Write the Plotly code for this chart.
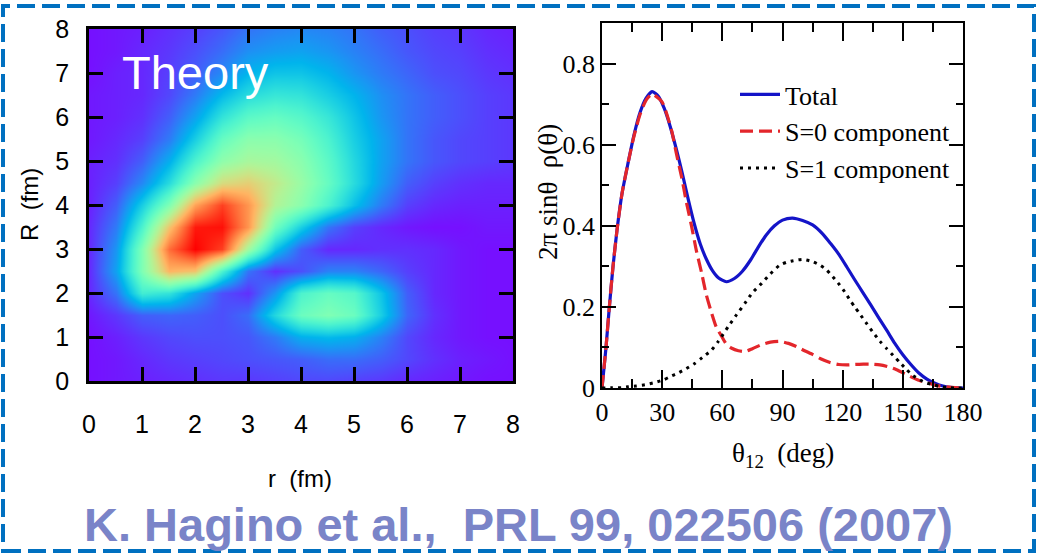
import math
import plotly.graph_objects as go

# ---------------- data: left panel (density map) ----------------
r_fm = [0, 0.5, 1, 1.5, 2, 2.5, 3, 3.5, 4, 4.5, 5, 5.5, 6, 6.5, 7, 7.5, 8]
R_fm = [0, 0.5, 1, 1.5, 2, 2.5, 3, 3.5, 4, 4.5, 5, 5.5, 6, 6.5, 7, 7.5, 8]
density = [
    [0.02, 0.03, 0.04, 0.05, 0.06, 0.07, 0.07, 0.08, 0.09, 0.09, 0.08, 0.07, 0.05, 0.04, 0.03, 0.02, 0.02],
    [0.02, 0.03, 0.05, 0.07, 0.08, 0.09, 0.10, 0.11, 0.12, 0.14, 0.14, 0.12, 0.09, 0.06, 0.04, 0.03, 0.02],
    [0.02, 0.04, 0.07, 0.09, 0.10, 0.10, 0.11, 0.16, 0.24, 0.26, 0.24, 0.17, 0.09, 0.05, 0.03, 0.02, 0.02],
    [0.03, 0.07, 0.12, 0.13, 0.12, 0.10, 0.14, 0.32, 0.46, 0.50, 0.46, 0.30, 0.13, 0.06, 0.03, 0.02, 0.02],
    [0.05, 0.15, 0.38, 0.35, 0.22, 0.10, 0.06, 0.20, 0.40, 0.45, 0.42, 0.28, 0.12, 0.05, 0.03, 0.02, 0.02],
    [0.05, 0.22, 0.50, 0.75, 0.72, 0.40, 0.15, 0.06, 0.10, 0.17, 0.17, 0.13, 0.08, 0.05, 0.03, 0.02, 0.02],
    [0.05, 0.20, 0.50, 0.86, 1.00, 0.92, 0.57, 0.28, 0.12, 0.05, 0.05, 0.06, 0.06, 0.05, 0.03, 0.02, 0.02],
    [0.05, 0.16, 0.40, 0.72, 0.97, 0.98, 0.80, 0.47, 0.30, 0.15, 0.08, 0.05, 0.03, 0.02, 0.02, 0.03, 0.03],
    [0.04, 0.12, 0.30, 0.50, 0.78, 0.92, 0.80, 0.60, 0.52, 0.40, 0.27, 0.16, 0.08, 0.05, 0.04, 0.04, 0.04],
    [0.04, 0.08, 0.18, 0.33, 0.52, 0.67, 0.70, 0.63, 0.55, 0.45, 0.33, 0.21, 0.12, 0.08, 0.06, 0.05, 0.05],
    [0.04, 0.06, 0.12, 0.24, 0.40, 0.53, 0.58, 0.57, 0.52, 0.43, 0.32, 0.22, 0.15, 0.11, 0.09, 0.08, 0.07],
    [0.03, 0.05, 0.08, 0.16, 0.30, 0.45, 0.52, 0.52, 0.48, 0.40, 0.30, 0.22, 0.15, 0.11, 0.09, 0.08, 0.07],
    [0.03, 0.04, 0.06, 0.12, 0.22, 0.35, 0.43, 0.45, 0.42, 0.36, 0.28, 0.20, 0.15, 0.12, 0.10, 0.08, 0.07],
    [0.03, 0.04, 0.05, 0.09, 0.16, 0.26, 0.33, 0.36, 0.35, 0.30, 0.25, 0.19, 0.15, 0.12, 0.10, 0.08, 0.07],
    [0.02, 0.04, 0.05, 0.08, 0.12, 0.18, 0.25, 0.28, 0.28, 0.25, 0.20, 0.16, 0.13, 0.10, 0.09, 0.07, 0.06],
    [0.02, 0.03, 0.05, 0.07, 0.10, 0.14, 0.19, 0.21, 0.22, 0.20, 0.17, 0.14, 0.11, 0.09, 0.08, 0.06, 0.05],
    [0.02, 0.03, 0.04, 0.06, 0.08, 0.11, 0.15, 0.17, 0.18, 0.17, 0.15, 0.12, 0.10, 0.08, 0.07, 0.05, 0.04],
]
map_ticks = [0, 1, 2, 3, 4, 5, 6, 7, 8]

# ---------------- data: right panel (angular distribution) ----------------
theta_total = [0, 1, 2, 3.5, 5.5, 7.5, 10, 13, 16, 19, 22, 25, 28, 31, 34, 37, 40, 43, 46, 49,
               52, 55, 58, 62, 66, 70, 74, 78, 82, 86, 90, 95, 100, 105, 110, 114, 118, 122,
               126, 130, 134, 138, 142, 146, 150, 154, 158, 162, 166, 170, 175, 180]
rho_total = [0, 0.05, 0.10, 0.19, 0.30, 0.39, 0.48, 0.555, 0.625, 0.68, 0.715, 0.731, 0.72, 0.69,
             0.645, 0.59, 0.53, 0.465, 0.405, 0.355, 0.318, 0.29, 0.272, 0.262, 0.27, 0.288,
             0.315, 0.348, 0.378, 0.40, 0.414, 0.419, 0.413, 0.402, 0.38, 0.356, 0.33, 0.299,
             0.267, 0.236, 0.205, 0.173, 0.142, 0.11, 0.082, 0.058, 0.037, 0.022, 0.012, 0.005,
             0.001, 0]

theta_s0 = [0, 1, 2, 3.5, 5.5, 7.5, 10, 13, 16, 19, 22, 25, 28, 30, 32, 34.7, 37, 39.7, 42, 44.7,
            47, 49.7, 52, 54.7, 57, 59.7, 62, 64.7, 68, 71.3, 75, 79.6, 84, 88.7, 93, 97, 101,
            105.3, 109, 113.7, 118, 122, 126, 130.3, 134, 138.6, 143, 146.9, 151, 155.2, 159,
            163.5, 167, 171.8, 176, 180]
rho_s0 = [0, 0.05, 0.10, 0.19, 0.30, 0.39, 0.48, 0.555, 0.622, 0.675, 0.71, 0.725, 0.715, 0.705,
          0.68, 0.635, 0.58, 0.52, 0.46, 0.398, 0.34, 0.283, 0.23, 0.184, 0.15, 0.127, 0.108,
          0.098, 0.092, 0.09, 0.097, 0.107, 0.113, 0.115, 0.11, 0.102, 0.092, 0.082, 0.072,
          0.063, 0.058, 0.057, 0.058, 0.059, 0.059, 0.057, 0.052, 0.045, 0.035, 0.025, 0.017,
          0.011, 0.006, 0.003, 0.001, 0]

theta_s1 = [0, 5, 10, 13, 17, 21.4, 26, 30.6, 34, 38, 42, 46.4, 50, 54.7, 58, 63, 67, 71.3, 75,
            79.6, 84, 88.7, 92, 95.4, 100.4, 105.3, 109, 112, 115, 118.5, 121, 123.5, 126, 128.5,
            131.8, 135, 138.6, 142, 145.2, 148.5, 151.9, 155, 158.5, 162, 165.2, 168, 172, 176, 180]
rho_s1 = [0, 0.0005, 0.001, 0.003, 0.005, 0.008, 0.013, 0.02, 0.028, 0.037, 0.048, 0.061, 0.075,
          0.094, 0.115, 0.152, 0.18, 0.209, 0.235, 0.258, 0.282, 0.303, 0.31, 0.314, 0.317,
          0.311, 0.302, 0.291, 0.275, 0.254, 0.237, 0.218, 0.20, 0.183, 0.16, 0.138, 0.115,
          0.097, 0.08, 0.063, 0.045, 0.031, 0.02, 0.012, 0.008, 0.004, 0.001, 0, 0]

# ---------------- styling helpers ----------------
W, H = 1037, 556


def px_x(p):
    return p / W


def px_y(p):
    return 1 - p / H


def rainbow(t):
    r = min(1.0, abs(2 * t - 0.5))
    g = math.sin(math.pi * t)
    b = math.cos(math.pi * t / 2)
    return "rgb(%d,%d,%d)" % (round(255 * r), round(255 * g), round(255 * b))


rainbow_scale = [[i / 20, rainbow(i / 20)] for i in range(21)]

SANS = "Liberation Sans, Arial, sans-serif"
SERIF = "Liberation Serif, Times New Roman, serif"

fig = go.Figure()

fig.add_trace(go.Heatmap(
    x=r_fm, y=R_fm, z=density, colorscale=rainbow_scale, zmin=0, zmax=1,
    zsmooth="best", showscale=False, xaxis="x", yaxis="y", hoverinfo="skip",
    showlegend=False,
))

fig.add_trace(go.Scatter(
    x=theta_total, y=rho_total, mode="lines", name="Total",
    line=dict(color="#1414c8", width=3.2, shape="spline", smoothing=0.6),
    xaxis="x2", yaxis="y2", legendgroup="a",
))
fig.add_trace(go.Scatter(
    x=theta_s0, y=rho_s0, mode="lines", name="S=0 component",
    line=dict(color="#e3262b", width=3.2, dash="13px,6px", shape="spline", smoothing=0.6),
    xaxis="x2", yaxis="y2", legendgroup="b",
))
fig.add_trace(go.Scatter(
    x=theta_s1, y=rho_s1, mode="lines", name="S=1 component",
    line=dict(color="black", width=3, dash="3px,5px", shape="spline", smoothing=0.6),
    xaxis="x2", yaxis="y2", legendgroup="c",
))

left_axis_common = dict(
    range=[0, 8], tickvals=map_ticks, ticks="inside", ticklen=14, tickwidth=2.5,
    tickcolor="black", showline=True, linecolor="black", linewidth=2.5, mirror="ticks",
    showgrid=False, zeroline=False, automargin=False,
    tickfont=dict(family=SANS, size=25, color="black"),
)
right_axis_common = dict(
    ticks="inside", tickwidth=1.5, tickcolor="black", showline=True, linecolor="black",
    linewidth=1.5, mirror="ticks", showgrid=False, zeroline=False, automargin=False,
    tickfont=dict(family=SERIF, size=26, color="black"),
)

fig.update_layout(
    template="none",
    width=W, height=H, margin=dict(l=0, r=0, t=0, b=0, pad=0, autoexpand=False),
    paper_bgcolor="white", plot_bgcolor="white",
    xaxis=dict(domain=[px_x(89), px_x(513)], anchor="y", ticklabelstandoff=19,
               **left_axis_common),
    yaxis=dict(domain=[px_y(381), px_y(29)], anchor="x", ticklabelstandoff=12,
               **left_axis_common),
    xaxis2=dict(domain=[px_x(602), px_x(963)], anchor="y2", range=[0, 180], tick0=0,
                dtick=30, ticklen=18, ticklabelstandoff=0,
                minor=dict(dtick=15, ticks="inside", ticklen=9, tickwidth=1.5,
                           tickcolor="black"),
                **right_axis_common),
    yaxis2=dict(domain=[px_y(388), px_y(23)], anchor="x2", range=[0, 0.9], tick0=0,
                dtick=0.2, ticklen=14, ticklabelstandoff=0,
                minor=dict(dtick=0.1, ticks="inside", ticklen=7, tickwidth=1.5,
                           tickcolor="black"),
                **right_axis_common),
    legend=dict(x=px_x(735), y=px_y(71), xanchor="left", yanchor="top",
                bgcolor="rgba(0,0,0,0)", borderwidth=0,
                font=dict(family=SERIF, size=26, color="black"),
                tracegroupgap=0, itemwidth=40),
    showlegend=True,
)

annotations = [
    dict(text="Theory", x=px_x(120), y=px_y(73), xanchor="left", yanchor="middle",
         font=dict(family=SANS, size=47, color="white")),
    dict(text="R\u00a0\u00a0(fm)", x=px_x(30), y=px_y(205), textangle=-90,
         xanchor="center", yanchor="middle", font=dict(family=SANS, size=24, color="black")),
    dict(text="r\u00a0\u00a0(fm)", x=px_x(300), y=px_y(478), xanchor="center",
         yanchor="middle", font=dict(family=SANS, size=24, color="black")),
    dict(text="2\u03c0 sin\u03b8\u00a0\u00a0\u03c1(\u03b8)", x=px_x(548), y=px_y(192),
         textangle=-90, xanchor="center", yanchor="middle",
         font=dict(family=SERIF, size=27, color="black")),
    dict(text="\u03b8<sub>12</sub>\u00a0\u00a0(deg)", x=px_x(783), y=px_y(455),
         xanchor="center", yanchor="middle", font=dict(family=SERIF, size=27, color="black")),
    dict(text="<b>K. Hagino et al.,\u00a0\u00a0PRL 99, 022506 (2007)</b>", x=px_x(518),
         y=px_y(524), xanchor="center", yanchor="middle",
         font=dict(family=SANS, size=47, color="#7a84c8")),
]
for a in annotations:
    a.update(xref="paper", yref="paper", showarrow=False)
fig.update_layout(annotations=annotations)

fig.add_shape(type="rect", xref="paper", yref="paper",
              x0=px_x(3), x1=px_x(1034), y0=px_y(551), y1=px_y(6),
              line=dict(color="#0070c0", width=4, dash="18px,7px"), layer="above")

fig.write_html(
    "out.html",
    config={"displayModeBar": False},
    post_script="document.body.style.margin='0';document.body.style.overflow='hidden';",
)
